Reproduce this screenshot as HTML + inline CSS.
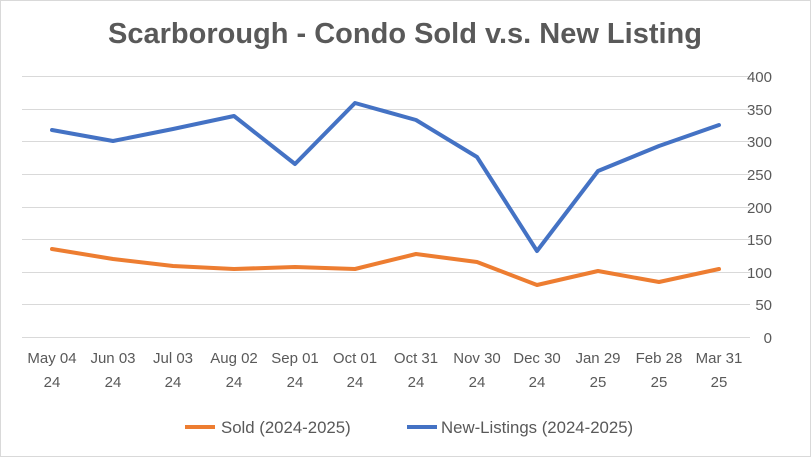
<!DOCTYPE html>
<html><head><meta charset="utf-8"><style>
html,body{margin:0;padding:0;background:#fff}
svg{display:block}
text{font-family:"Liberation Sans",Arial,sans-serif;fill:#595959}
</style></head><body>
<svg width="811" height="457" viewBox="0 0 811 457" xmlns="http://www.w3.org/2000/svg">
<rect x="0.5" y="0.5" width="810" height="456" fill="#fff" stroke="#d9d9d9"/>
<text x="405" y="43" text-anchor="middle" font-size="29" font-weight="bold">Scarborough - Condo Sold v.s. New Listing</text>
<g stroke="#d9d9d9" stroke-width="1">
<line x1="22" x2="750" y1="76.5" y2="76.5"/>
<line x1="22" x2="750" y1="109.5" y2="109.5"/>
<line x1="22" x2="750" y1="141.5" y2="141.5"/>
<line x1="22" x2="750" y1="174.5" y2="174.5"/>
<line x1="22" x2="750" y1="207.5" y2="207.5"/>
<line x1="22" x2="750" y1="239.5" y2="239.5"/>
<line x1="22" x2="750" y1="272.5" y2="272.5"/>
<line x1="22" x2="750" y1="304.5" y2="304.5"/>
<line x1="22" x2="750" y1="337.5" y2="337.5"/>
</g>
<g font-size="15" text-anchor="end">
<text x="772" y="82">400</text><text x="772" y="115">350</text><text x="772" y="147">300</text>
<text x="772" y="180">250</text><text x="772" y="213">200</text><text x="772" y="245">150</text>
<text x="772" y="278">100</text><text x="772" y="310">50</text><text x="772" y="343">0</text>
</g>
<g font-size="15" text-anchor="middle">
<text x="52" y="363">May 04</text><text x="52" y="387">24</text>
<text x="113" y="363">Jun 03</text><text x="113" y="387">24</text>
<text x="173" y="363">Jul 03</text><text x="173" y="387">24</text>
<text x="234" y="363">Aug 02</text><text x="234" y="387">24</text>
<text x="295" y="363">Sep 01</text><text x="295" y="387">24</text>
<text x="355" y="363">Oct 01</text><text x="355" y="387">24</text>
<text x="416" y="363">Oct 31</text><text x="416" y="387">24</text>
<text x="477" y="363">Nov 30</text><text x="477" y="387">24</text>
<text x="537" y="363">Dec 30</text><text x="537" y="387">24</text>
<text x="598" y="363">Jan 29</text><text x="598" y="387">25</text>
<text x="659" y="363">Feb 28</text><text x="659" y="387">25</text>
<text x="719" y="363">Mar 31</text><text x="719" y="387">25</text>
</g>
<polyline fill="none" stroke="#4472c4" stroke-width="4" stroke-linejoin="round" stroke-linecap="round"
points="52,130 113,141 173,129 234,116 295,164 355,103 416,120 477,157 537,251 598,171 659,146 719,125"/>
<polyline fill="none" stroke="#ed7d31" stroke-width="4" stroke-linejoin="round" stroke-linecap="round"
points="52,249 113,259 173,266 234,269 295,267 355,269 416,254 477,262 537,285 598,271 659,282 719,269"/>
<line x1="185" x2="215" y1="427" y2="427" stroke="#ed7d31" stroke-width="4"/>
<text x="221" y="433" font-size="16.8">Sold (2024-2025)</text>
<line x1="407" x2="437" y1="427" y2="427" stroke="#4472c4" stroke-width="4"/>
<text x="441" y="433" font-size="16.8">New-Listings (2024-2025)</text>
</svg>
</body></html>
